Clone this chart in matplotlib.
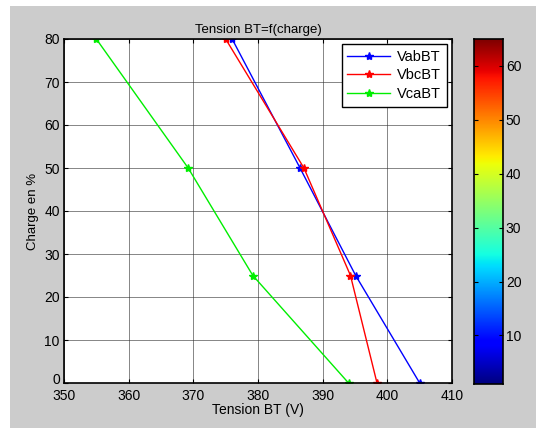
import numpy as np
import matplotlib
matplotlib.use('Agg')
import matplotlib.pyplot as plt
import matplotlib.transforms as mtransforms
from matplotlib.patches import Rectangle

plt.rcParams['font.family'] = ['Liberation Sans', 'DejaVu Sans']
plt.rcParams['font.size'] = 9.5

charge = [80, 50, 25, 0]
vab = [376, 386.5, 395.1, 405]
vbc = [375, 387.1, 394.3, 398.4]
vca = [355, 369.2, 379.2, 394]

gray = '#cccccc'
fig = plt.figure(figsize=(5.36, 4.28), dpi=100, facecolor='white')
fig.patches.append(Rectangle((10 / 536, 0), 1, 1 - 6 / 428, transform=fig.transFigure,
                             facecolor=gray, edgecolor='none', zorder=-10))

ax = fig.add_axes([64 / 536, 1 - 383 / 428, (452 - 64) / 536, (383 - 39) / 428])
ax.set_facecolor('white')
ax.plot(vab, charge, color='blue', marker='*', markersize=6, lw=1.0, label='VabBT')
ax.plot(vbc, charge, color='red', marker='*', markersize=6, lw=1.0, label='VbcBT')
ax.plot(vca, charge, color='#00ee00', marker='*', markersize=6, lw=1.0, label='VcaBT')
ax.set_xlim(350, 410)
ax.set_ylim(0, 80)
ax.set_xticks(np.arange(350, 411, 10))
ax.set_yticks(np.arange(0, 81, 10))
ax.grid(True, color='#333333', lw=0.7, alpha=0.6)
ax.tick_params(direction='in', top=True, right=True, length=3, labelsize=10)
ax.tick_params(axis='x', pad=4.5)
ax.tick_params(axis='y', pad=3)
for s in ax.spines.values():
    s.set_linewidth(1.2)
ax.set_title('Tension BT=f(charge)', fontsize=9.5, pad=4)
ax.set_xlabel('Tension BT (V)', fontsize=10, labelpad=0)
ax.set_ylabel('Charge en %', fontsize=9.5, labelpad=4)
leg = ax.legend(loc='upper right', fancybox=False, framealpha=1, edgecolor='black',
                fontsize=10.5, handlelength=2.9, handletextpad=0.5,
                borderaxespad=0.35, labelspacing=0.3)
leg.get_frame().set_linewidth(1.0)

# nudge the "0" label up a little so it clears "350"
lbl0 = ax.get_yticklabels()[0]
lbl0.set_transform(lbl0.get_transform() + mtransforms.ScaledTranslation(0, 3 / 72, fig.dpi_scale_trans))

cax = fig.add_axes([474 / 536, 1 - 384 / 428, 29 / 536, (384 - 39) / 428])
grad = np.linspace(1, 65, 256).reshape(-1, 1)
cax.imshow(grad, aspect='auto', cmap='jet', origin='lower', extent=[0, 1, 1, 65])
cax.set_xticks([])
cax.set_yticks([10, 20, 30, 40, 50, 60])
cax.yaxis.tick_right()
cax.tick_params(direction='in', left=True, right=True, length=3, labelsize=10, pad=2)
for s in cax.spines.values():
    s.set_linewidth(1.2)

fig.savefig('out.png', dpi=100, facecolor=fig.get_facecolor())
